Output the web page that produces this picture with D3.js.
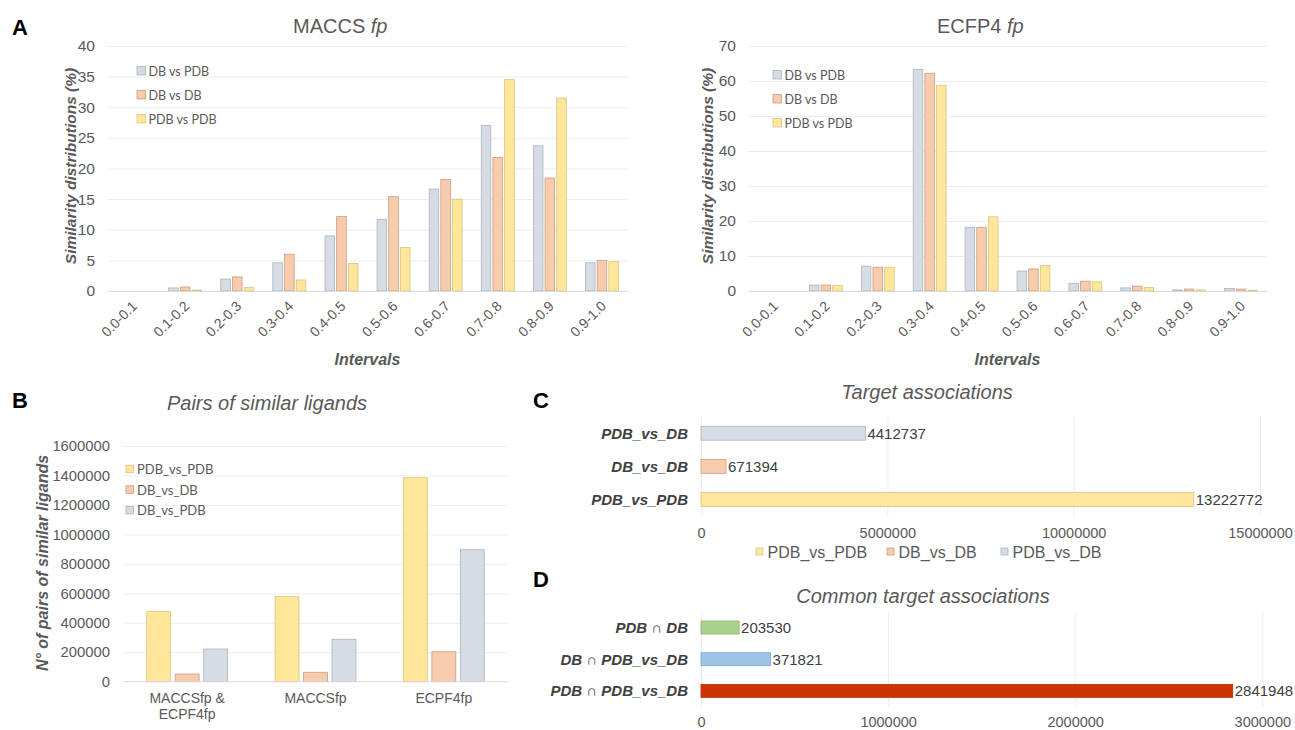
<!DOCTYPE html>
<html><head><meta charset="utf-8">
<script src="https://cdn.jsdelivr.net/npm/d3@7"></script>
<style>body{margin:0;background:#fff}svg{display:block}</style>
</head><body>
<svg id="c" width="1295" height="730"></svg>
<script>
// ---------------- DATA ----------------
const intervals = ["0.0-0.1","0.1-0.2","0.2-0.3","0.3-0.4","0.4-0.5","0.5-0.6","0.6-0.7","0.7-0.8","0.8-0.9","0.9-1.0"];
const seriesA = ["DB vs PDB","DB vs DB","PDB vs PDB"];
const maccsDBvsPDB = [0,0.5,1.95,4.6,9.0,11.7,16.65,27.0,23.7,4.6];
const maccsDBvsDB  = [0,0.65,2.3,6.0,12.15,15.4,18.2,21.8,18.45,5.0];
const maccsPDBvsPDB= [0,0.15,0.55,1.8,4.5,7.1,15.0,34.5,31.5,4.8];
const maccsTicks = [0,5,10,15,20,25,30,35,40];
const ecfpDBvsPDB = [0,1.7,7.1,63.3,18.2,5.7,2.2,0.9,0.3,0.75];
const ecfpDBvsDB  = [0,1.7,6.8,62.2,18.2,6.3,2.8,1.4,0.55,0.55];
const ecfpPDBvsPDB= [0,1.5,6.8,58.8,21.2,7.3,2.6,1.05,0.3,0.2];
const ecfpTicks = [0,10,20,30,40,50,60,70];

const pairCategories = ["MACCSfp & ECPF4fp","MACCSfp","ECPF4fp"];
const pairCategoryLines = [["MACCSfp &","ECPF4fp"],["MACCSfp"],["ECPF4fp"]];
const pairSeries = ["PDB_vs_PDB","DB_vs_DB","DB_vs_PDB"];
const pairsPDBvsPDB = [478000,577000,1385000];
const pairsDBvsDB   = [52000,64000,203000];
const pairsDBvsPDB  = [222000,288000,896000];
const pairTicks = [0,200000,400000,600000,800000,1000000,1200000,1400000,1600000];

const targetCategories = ["PDB_vs_DB","DB_vs_DB","PDB_vs_PDB"];
const targetValues = [4412737,671394,13222772];
const targetTicks = [0,5000000,10000000,15000000];
const targetLegend = ["PDB_vs_PDB","DB_vs_DB","PDB_vs_DB"];

const commonCategories = ["PDB \u2229 DB","DB \u2229 PDB_vs_DB","PDB \u2229 PDB_vs_DB"];
const commonValues = [203530,371821,2841948];
const commonTicks = [0,1000000,2000000,3000000];

// ---------------- STYLE ----------------
const FONT = "'Liberation Sans', Arial, sans-serif";
const LFONT = "Lato, 'Open Sans', sans-serif";
const TXT = "#595959";
const DARK = "#404040";
const GRID = "#ededed";
const fill = {gray:"#d6dce5", orange:"#f8cbad", yellow:"#ffe699", green:"#a9d18e", blue:"#9dc3e6", red:"#cc3300"};
const stroke = {gray:"#adb3bd", orange:"#c99d80", yellow:"#d6c384", green:"#8bb270", blue:"#7ea7cc", red:"#b83000"};

const svg = d3.select("#c");

function txt(g, x, y, s, o={}) {
  return g.append("text").attr("x",x).attr("y",y).text(s)
    .attr("font-family",o.family||FONT).attr("font-size",o.size||14)
    .attr("fill",o.color||TXT).attr("text-anchor",o.anchor||"start")
    .attr("font-weight",o.weight||"normal").attr("font-style",o.style||"normal")
    .attr("dominant-baseline",o.baseline||"auto");
}

// panel letters
[["A",12,35],["B",12,408],["C",533,408],["D",533,587]].forEach(d=>
  txt(svg,d[1],d[2],d[0],{size:22,weight:"bold",color:"#000"}));

// ---------------- PANEL A ----------------
function panelA(cfg){
  const g = svg.append("g");
  const x = d3.scaleBand().domain(intervals).range([cfg.x0,cfg.x1]).paddingInner(0.367).paddingOuter(0.1835);
  const xs = d3.scaleBand().domain(seriesA).range([0,x.bandwidth()]).paddingInner(0.18);
  const y = d3.scaleLinear().domain([0,cfg.ticks[cfg.ticks.length-1]]).range([291,46]);
  const grid = g.append("g").attr("transform",`translate(${cfg.x0},0)`)
    .call(d3.axisLeft(y).tickValues(cfg.ticks.slice(1)).tickSize(-(cfg.x1-cfg.x0)).tickFormat(""));
  grid.select(".domain").remove();
  grid.selectAll("line").attr("stroke",GRID);
  const ya = g.append("g").attr("transform",`translate(${cfg.x0},0)`)
    .call(d3.axisLeft(y).tickValues(cfg.ticks).tickSize(0).tickPadding(12));
  ya.select(".domain").remove();
  ya.attr("font-family",FONT).attr("font-size",15.5).style("color",TXT);
  const series = [cfg.s0,cfg.s1,cfg.s2];
  const cols = ["gray","orange","yellow"];
  series.forEach((arr,si)=>{
    g.append("g").selectAll("rect").data(arr).join("rect")
      .attr("x",(d,i)=>x(intervals[i])+xs(seriesA[si]))
      .attr("width",xs.bandwidth())
      .attr("y",d=>y(d)).attr("height",d=>y(0)-y(d))
      .attr("fill",fill[cols[si]]).attr("stroke",stroke[cols[si]]).attr("stroke-width",0.8)
      .attr("display",d=>d>0?null:"none");
  });
  const xa = g.append("g").attr("transform","translate(0,291)").call(d3.axisBottom(x).tickSize(0));
  xa.select(".domain").attr("stroke","#d9d9d9");
  xa.attr("font-family",FONT).attr("font-size",14).style("color",TXT);
  xa.selectAll("text").attr("y",0).attr("dy",0).attr("text-anchor","end")
    .attr("transform","translate(5,16) rotate(-45)");
  const t = txt(g,cfg.titleX,33,cfg.title+" ",{size:20});
  t.append("tspan").attr("font-style","italic").text("fp");
  txt(g,(cfg.x0+cfg.x1)/2,365,"Intervals",{size:16,weight:"bold",style:"italic",anchor:"middle"});
  txt(g,0,0,"Similarity distributions (%)",{size:15.5,weight:"bold",style:"italic",anchor:"middle"})
    .attr("transform",`translate(${cfg.ylabX},166) rotate(-90)`).attr("dy","0.35em");
  seriesA.forEach((s,i)=>{
    const yy = cfg.legY + i*24;
    g.append("rect").attr("x",cfg.legX).attr("y",yy-4.5).attr("width",8.5).attr("height",8.5)
      .attr("fill",fill[cols[i]]).attr("stroke",stroke[cols[i]]).attr("stroke-width",0.8);
    txt(g,cfg.legX+11.5,yy,s,{family:LFONT,size:12.5,baseline:"central"});
  });
}
panelA({x0:107,x1:628,ticks:maccsTicks,s0:maccsDBvsPDB,s1:maccsDBvsDB,s2:maccsPDBvsPDB,
  title:"MACCS",titleX:293,ylabX:71,legX:137,legY:71});
panelA({x0:748,x1:1267,ticks:ecfpTicks,s0:ecfpDBvsPDB,s1:ecfpDBvsDB,s2:ecfpPDBvsPDB,
  title:"ECFP4",titleX:937,ylabX:708,legX:773,legY:75});

// ---------------- PANEL B ----------------
(function(){
  const g = svg.append("g");
  const x0=123,x1=508,yb=681.7,yt=446;
  const x = d3.scaleBand().domain(pairCategories).range([x0,x1]).paddingInner(0.37).paddingOuter(0.185);
  const xs = d3.scaleBand().domain(pairSeries).range([0,x.bandwidth()]).paddingInner(0.16);
  const y = d3.scaleLinear().domain([0,1600000]).range([yb,yt]);
  const grid = g.append("g").attr("transform",`translate(${x0},0)`)
    .call(d3.axisLeft(y).tickValues(pairTicks.slice(1)).tickSize(-(x1-x0)).tickFormat(""));
  grid.select(".domain").remove();
  grid.selectAll("line").attr("stroke",GRID);
  const ya = g.append("g").attr("transform",`translate(${x0},0)`)
    .call(d3.axisLeft(y).tickValues(pairTicks).tickSize(0).tickPadding(13).tickFormat(d3.format("d")));
  ya.select(".domain").remove();
  ya.attr("font-family",FONT).attr("font-size",14.8).style("color",TXT);
  const series=[pairsPDBvsPDB,pairsDBvsDB,pairsDBvsPDB];
  const cols=["yellow","orange","gray"];
  series.forEach((arr,si)=>{
    g.append("g").selectAll("rect").data(arr).join("rect")
      .attr("x",(d,i)=>x(pairCategories[i])+xs(pairSeries[si]))
      .attr("width",xs.bandwidth())
      .attr("y",d=>y(d)).attr("height",d=>y(0)-y(d))
      .attr("fill",fill[cols[si]]).attr("stroke",stroke[cols[si]]).attr("stroke-width",0.8);
  });
  g.append("line").attr("x1",x0).attr("x2",x1).attr("y1",yb).attr("y2",yb).attr("stroke","#d9d9d9");
  pairCategories.forEach((c,i)=>{
    pairCategoryLines[i].forEach((l,j)=>
      txt(g,x(c)+x.bandwidth()/2,703+j*15.5,l,{size:14,anchor:"middle"}));
  });
  txt(g,267,410,"Pairs of similar ligands",{size:20,style:"italic"}).attr("text-anchor","middle");
  txt(g,0,0,"N\u00B0 of pairs of similar ligands",{size:16,weight:"bold",style:"italic",anchor:"middle"})
    .attr("transform","translate(42,563) rotate(-90)").attr("dy","0.35em");
  pairSeries.forEach((s,i)=>{
    const yy=469+i*20.6;
    g.append("rect").attr("x",126).attr("y",yy-3.8).attr("width",7.5).attr("height",7.5)
      .attr("fill",fill[cols[i]]).attr("stroke",stroke[cols[i]]).attr("stroke-width",0.8);
    txt(g,137,yy,s,{family:LFONT,size:13,baseline:"central"});
  });
})();

// ---------------- PANEL C / D ----------------
function hbar(cfg){
  const g = svg.append("g");
  const x = d3.scaleLinear().domain([0,cfg.ticks[cfg.ticks.length-1]]).range([701,cfg.xEnd]);
  const y = d3.scaleBand().domain(cfg.cats).range([cfg.yt,cfg.yb]).paddingInner(cfg.pad).paddingOuter(cfg.pad/2);
  const grid = g.append("g").attr("transform",`translate(0,${cfg.yb})`)
    .call(d3.axisBottom(x).tickValues(cfg.ticks).tickSize(-(cfg.yb-cfg.yt)).tickFormat(""));
  grid.select(".domain").remove();
  grid.selectAll("line").attr("stroke",GRID);
  const xa = g.append("g").attr("transform",`translate(0,${cfg.yb})`)
    .call(d3.axisBottom(x).tickValues(cfg.ticks).tickSize(0).tickPadding(0).tickFormat(d3.format("d")));
  xa.select(".domain").remove();
  xa.attr("font-family",FONT).attr("font-size",14.5).style("color",TXT);
  xa.selectAll("text").attr("y",cfg.tickY-cfg.yb).attr("dy",0);
  g.selectAll("rect.b").data(cfg.values).join("rect").attr("class","b")
    .attr("x",x(0)).attr("y",(d,i)=>y(cfg.cats[i]))
    .attr("width",d=>x(d)-x(0)).attr("height",y.bandwidth())
    .attr("fill",(d,i)=>fill[cfg.cols[i]]).attr("stroke",(d,i)=>stroke[cfg.cols[i]]).attr("stroke-width",0.8);
  cfg.values.forEach((v,i)=>{
    const cy=y(cfg.cats[i])+y.bandwidth()/2;
    txt(g,x(v)+2,cy,String(v),{size:15,color:DARK,baseline:"central"});
    txt(g,688,cy,cfg.cats[i],{size:15,weight:"bold",style:"italic",color:DARK,anchor:"end",baseline:"central"});
  });
  txt(g,cfg.titleX,cfg.titleY,cfg.title,{size:20,style:"italic",anchor:"middle"});
  return g;
}
const gC = hbar({cats:targetCategories,values:targetValues,ticks:targetTicks,xEnd:1260,yt:416.7,yb:516,pad:0.58,
  cols:["gray","orange","yellow"],tickY:538,title:"Target associations",titleX:927,titleY:399});
(function(){
  const cols=["yellow","orange","gray"];
  const xs=[756,887,1001];
  targetLegend.forEach((s,i)=>{
    gC.append("rect").attr("x",xs[i]).attr("y",548).attr("width",7).attr("height",7)
      .attr("fill",fill[cols[i]]).attr("stroke",stroke[cols[i]]).attr("stroke-width",0.8);
    txt(gC,xs[i]+11.5,558,s,{size:16});
  });
})();
hbar({cats:commonCategories,values:commonValues,ticks:commonTicks,xEnd:1262.3,yt:611.7,yb:706.7,pad:0.59,
  cols:["green","blue","red"],tickY:727,title:"Common target associations",titleX:923,titleY:603});
</script>
</body></html>
